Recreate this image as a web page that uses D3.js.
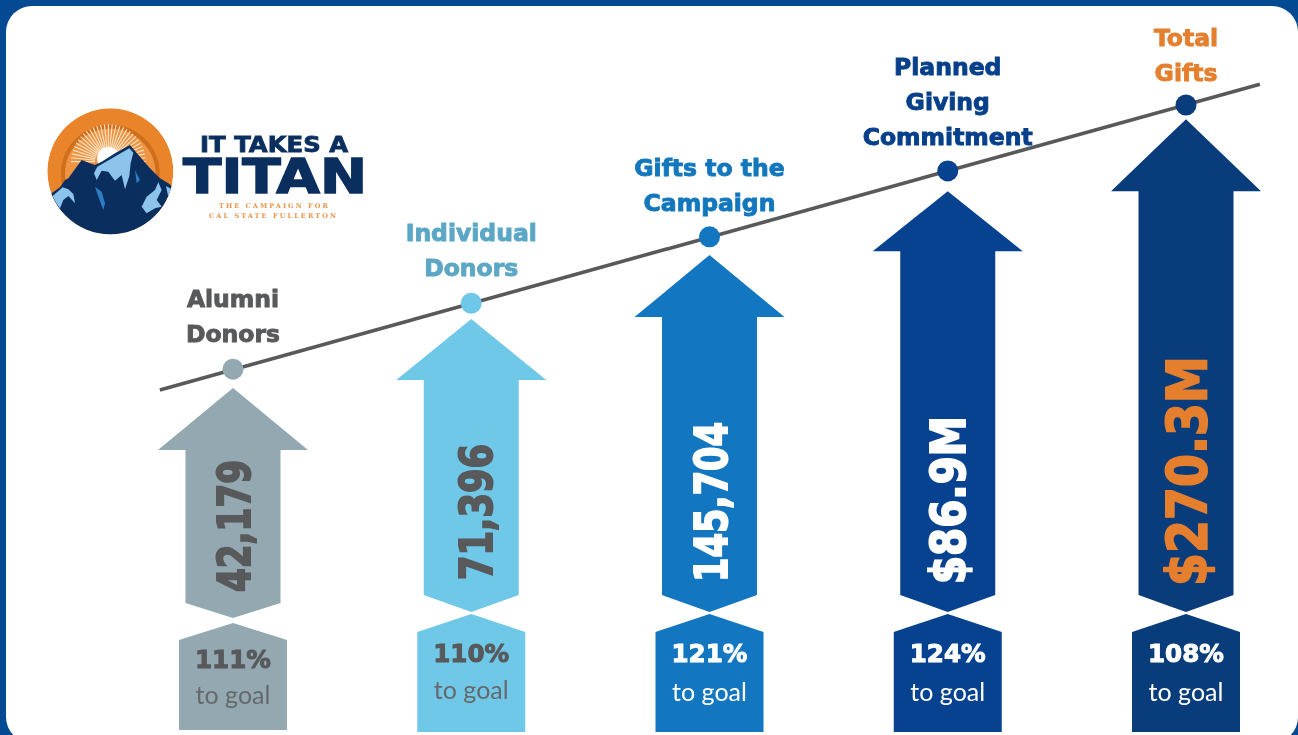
<!DOCTYPE html>
<html>
<head>
<meta charset="utf-8">
<script src="https://cdn.jsdelivr.net/npm/d3@7"></script>
<style>
html, body { margin: 0; padding: 0; background: #044a92; overflow: hidden; }
svg { display: block; }
</style>
</head>
<body>
<div id="chart"></div>
<script>
// chart values
var categories = [["Alumni", "Donors"], ["Individual", "Donors"], ["Gifts to the", "Campaign"], ["Planned", "Giving", "Commitment"], ["Total", "Gifts"]];
var valueLabels = ["42,179", "71,396", "145,704", "$86.9M", "$270.3M"];
var goalPercents = [111, 110, 121, 124, 108];
var arrowLevels = [44.2, 57.8, 70.4, 83, 97.2];
var dotLevels = [47.9, 60.9, 74, 87, 100];
var trendPositions = [-0.307, 4.31];
var trendLevels = [43.8, 104.1];

var width = 1298, height = 735;
var boldFont = "'DejaVu Sans', sans-serif";
var plainFont = "Lato, 'Noto Sans', sans-serif";

var fills = ["#93a8b0", "#6fc8e8", "#1276c0", "#06428f", "#083c7a"];
var titleColors = ["#58595b", "#5ba7c5", "#1277bd", "#063f8a", "#e57f2e"];
var valueColors = ["#58595b", "#58595b", "#ffffff", "#ffffff", "#e57f2e"];
var pctColors = ["#58595b", "#58595b", "#ffffff", "#ffffff", "#ffffff"];

var x = d3.scaleLinear().domain([0, 4]).range([233, 1186]);
var y = d3.scaleLinear().domain([0, 100]).range([612, 105]);

var root = d3.select("#chart").append("svg")
    .attr("width", width)
    .attr("height", height);

// white panel on the blue page
root.append("rect")
    .attr("x", 6).attr("y", 6)
    .attr("width", 1292).attr("height", 737)
    .attr("rx", 26).attr("ry", 26)
    .attr("fill", "#ffffff");

// the reference is a soft, scaled up image
var svg = root.append("g").style("filter", "blur(0.5px)");

// trend line
var trend = d3.line()
    .x(function(d) { return x(d[0]); })
    .y(function(d) { return y(d[1]); });

svg.append("path")
    .attr("d", trend(d3.zip(trendPositions, trendLevels)))
    .attr("fill", "none")
    .attr("stroke", "#58595b")
    .attr("stroke-width", 3.6);

svg.selectAll(".dot")
    .data(dotLevels)
    .enter().append("circle")
    .attr("class", "dot")
    .attr("cx", function(d, i) { return x(i); })
    .attr("cy", function(d) { return y(d); })
    .attr("r", 10.5)
    .attr("fill", function(d, i) { return fills[i]; });

// arrows
var headHeights = [62, 61, 62, 60, 72];
var shaftBottoms = [603, 595, 595, 595, 595];
var arrowPoints = [618, 612, 612, 612, 612];

svg.selectAll(".arrow")
    .data(arrowLevels)
    .enter().append("path")
    .attr("class", "arrow")
    .attr("fill", function(d, i) { return fills[i]; })
    .attr("d", function(d, i) {
        var cx = x(i), tip = y(d), sh = tip + headHeights[i];
        return d3.line()([
            [cx, tip], [cx + 75, sh], [cx + 47.5, sh],
            [cx + 47.5, shaftBottoms[i]], [cx, arrowPoints[i]], [cx - 47.5, shaftBottoms[i]],
            [cx - 47.5, sh], [cx - 75, sh]
        ]) + "Z";
    });

// goal boxes
var boxTops = [623, 614, 614, 614, 614];
var boxShoulders = [640, 632, 632, 632, 632];
var boxBottoms = [730, 732, 732, 732, 732];

svg.selectAll(".goal")
    .data(goalPercents)
    .enter().append("path")
    .attr("class", "goal")
    .attr("fill", function(d, i) { return fills[i]; })
    .attr("d", function(d, i) {
        var cx = x(i);
        return d3.line()([
            [cx, boxTops[i]], [cx + 54, boxShoulders[i]], [cx + 54, boxBottoms[i]],
            [cx - 54, boxBottoms[i]], [cx - 54, boxShoulders[i]]
        ]) + "Z";
    });

// titles above the line
var titleBottoms = [342, 276, 211, 145, 81];
categories.forEach(function(lines, i) {
    lines.forEach(function(line, j) {
        svg.append("text")
            .attr("x", x(i))
            .attr("y", titleBottoms[i] - 35 * (lines.length - 1 - j))
            .attr("text-anchor", "middle")
            .attr("font-family", boldFont)
            .attr("font-weight", 700)
            .attr("font-size", 23.5)
            .attr("stroke", titleColors[i])
            .attr("stroke-width", 0.9)
            .attr("fill", titleColors[i])
            .text(line);
    });
});

// rotated values inside the arrows
var valueSizes = [44, 44, 44, 48, 56];
var valueLengths = [132, 136, 160, 168, 230];
var valueStarts = [592, 580, 582, 584, 586];
var valueNudges = [1, 4.5, 1.5, 0, 0];

svg.selectAll(".value")
    .data(valueLabels)
    .enter().append("text")
    .attr("class", "value")
    .attr("transform", function(d, i) {
        return "translate(" + (x(i) + valueNudges[i] + valueSizes[i] * 0.365) + "," + valueStarts[i] + ") rotate(-90)";
    })
    .attr("font-family", boldFont)
    .attr("font-weight", 700)
    .attr("font-size", function(d, i) { return valueSizes[i]; })
    .attr("textLength", function(d, i) { return valueLengths[i]; })
    .attr("lengthAdjust", "spacingAndGlyphs")
    .attr("stroke", function(d, i) { return valueColors[i]; })
    .attr("stroke-width", 2)
    .attr("fill", function(d, i) { return valueColors[i]; })
    .text(function(d) { return d; });

// percent to goal
var pctBaselines = [668, 662, 662, 662, 662];
var goalBaselines = [704, 699, 701, 701, 701];

svg.selectAll(".pct")
    .data(goalPercents)
    .enter().append("text")
    .attr("class", "pct")
    .attr("x", function(d, i) { return x(i); })
    .attr("y", function(d, i) { return pctBaselines[i]; })
    .attr("text-anchor", "middle")
    .attr("font-family", boldFont)
    .attr("font-weight", 700)
    .attr("font-size", 24)
    .attr("textLength", 76)
    .attr("lengthAdjust", "spacingAndGlyphs")
    .attr("stroke", function(d, i) { return pctColors[i]; })
    .attr("stroke-width", 1)
    .attr("fill", function(d, i) { return pctColors[i]; })
    .text(function(d) { return d + "%"; });

svg.selectAll(".togoal")
    .data(goalPercents)
    .enter().append("text")
    .attr("class", "togoal")
    .attr("x", function(d, i) { return x(i); })
    .attr("y", function(d, i) { return goalBaselines[i]; })
    .attr("text-anchor", "middle")
    .attr("font-family", plainFont)
    .attr("font-size", 25)
    .attr("fill", function(d, i) { return i < 2 ? "#66696c" : "#ffffff"; })
    .text("to goal");

drawLogo();

// logo, traced in the coordinates of a 3x crop of the picture
function drawLogo() {
    var navy = "#0a2f5f", ice = "#8cc4ec", mid = "#2f7cc4";

    var defs = root.append("defs");
    defs.append("clipPath").attr("id", "logo-clip")
        .append("circle").attr("cx", 211).attr("cy", 214).attr("r", 189);

    var g = svg.append("g")
        .attr("transform", "translate(40,100) scale(0.3333)")
        .attr("clip-path", "url(#logo-clip)");

    g.append("circle").attr("cx", 211).attr("cy", 214).attr("r", 189).attr("fill", "#e9842a");
    g.append("circle").attr("cx", 211).attr("cy", 222).attr("r", 142)
        .attr("fill", "#ee9442")
        .attr("stroke", "#cf6f1c")
        .attr("stroke-width", 12);

    // sun rays
    d3.range(-90, 91, 6).forEach(function(a) {
        var r = a * Math.PI / 180;
        g.append("line")
            .attr("x1", 205 + 40 * Math.sin(r)).attr("y1", 185 - 40 * Math.cos(r))
            .attr("x2", 205 + 112 * Math.sin(r)).attr("y2", 185 - 112 * Math.cos(r))
            .attr("stroke", "#fde3c4")
            .attr("stroke-width", 3.5);
    });
    g.append("circle").attr("cx", 205).attr("cy", 175).attr("r", 34).attr("fill", "#ffffff");

    var outline = "M20,290 L35,280 L60,262 L75,240 L85,235 L125,180 L150,190 L165,195 L185,185 L225,160 L270,135 L300,170 L330,205 L360,235 L385,250 L410,270 L410,420 L10,420 Z";
    g.append("path").attr("d", outline).attr("fill", navy);

    var snow = [
        "M172,200 L268,145 L280,158 L272,190 L268,228 L255,268 L245,225 L225,242 L205,215 L185,212 L170,240 L162,220 Z",
        "M38,288 L68,262 L85,268 L100,282 L105,310 L85,288 L70,300 L60,325 L48,308 Z",
        "M355,247 L365,270 L350,300 L365,320 L345,325 L320,340 L305,320 L320,290 L345,270 Z",
        "M378,258 L395,268 L385,290 Z"
    ];
    snow.forEach(function(d) { g.append("path").attr("d", d).attr("fill", ice); });

    var shade = ["M165,260 L185,275 L195,310 L190,330 L175,290 Z", "M285,210 L300,240 L290,250 Z"];
    shade.forEach(function(d) { g.append("path").attr("d", d).attr("fill", mid); });

    svg.append("text")
        .attr("x", 200).attr("y", 152)
        .attr("font-family", boldFont).attr("font-weight", 700).attr("font-size", 20.5)
        .attr("textLength", 148).attr("lengthAdjust", "spacingAndGlyphs")
        .attr("stroke", navy).attr("stroke-width", 0.8)
        .attr("fill", navy)
        .text("IT TAKES A");
    svg.append("text")
        .attr("x", 183).attr("y", 193)
        .attr("font-family", boldFont).attr("font-weight", 700).attr("font-size", 48)
        .attr("textLength", 184).attr("lengthAdjust", "spacingAndGlyphs")
        .attr("stroke", navy).attr("stroke-width", 1.5)
        .attr("fill", navy)
        .text("TITAN");
    svg.append("text")
        .attr("x", 219).attr("y", 208)
        .attr("font-family", "'DejaVu Serif', serif").attr("font-weight", 700).attr("font-size", 6.5)
        .attr("textLength", 109).attr("lengthAdjust", "spacing")
        .attr("fill", "#e9944a")
        .text("THE CAMPAIGN FOR");
    svg.append("text")
        .attr("x", 209).attr("y", 218)
        .attr("font-family", "'DejaVu Serif', serif").attr("font-weight", 700).attr("font-size", 6.5)
        .attr("textLength", 127).attr("lengthAdjust", "spacing")
        .attr("fill", "#e9944a")
        .text("CAL STATE FULLERTON");
}
</script>
</body>
</html>
